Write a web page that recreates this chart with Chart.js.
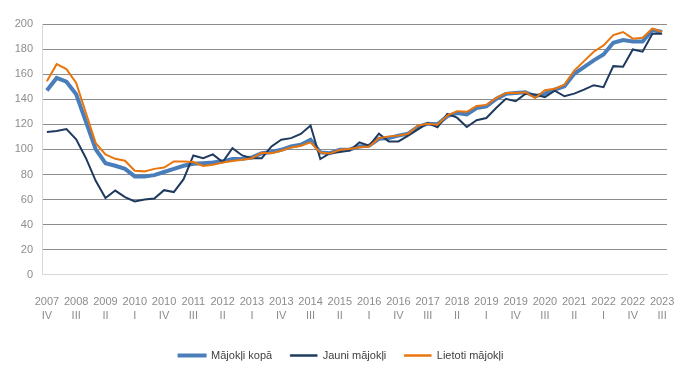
<!DOCTYPE html>
<html>
<head>
<meta charset="utf-8">
<script src="https://cdn.jsdelivr.net/npm/chart.js@4/dist/chart.umd.min.js"></script>
<style>
    html, body { margin: 0; padding: 0; background: #fff; }
    #wrap { width: 682px; height: 376px; }
</style>
</head>
<body>
<div id="wrap"><canvas id="chart" width="682" height="376"></canvas></div>
<script>
// Quarters 2007 IV .. 2023 III
const years = [];
const quarters = [];
const romans = ['I', 'II', 'III', 'IV'];
for (let y = 2007; y <= 2023; y++) {
    for (let q = 0; q < 4; q++) {
        if (y === 2007 && q < 3) continue;
        if (y === 2023 && q > 2) continue;
        years.push(String(y));
        quarters.push(romans[q]);
    }
}

const seriesNames = ['Mājokļi kopā', 'Jauni mājokļi', 'Lietoti mājokļi'];

const totalValues = [
    147, 157, 154, 144, 122, 100, 89, 87, 84.5, 78.5,
    78.5, 79.5, 82, 84.5, 87, 88.5, 89, 89.5, 90.5, 92.3,
    92.5, 93.6, 97, 98, 99.7, 102.4, 103.7, 107.7, 97.6, 97,
    99.7, 100, 102.4, 103, 108.5, 109, 111, 112.5, 118, 120.5,
    120, 126.5, 129, 128, 133, 134.4, 140.3, 144.3, 145, 145.6,
    142.4, 144.3, 147.7, 150.4, 160.3, 165.6, 171, 175.7, 185, 187.2,
    186, 186, 195.2, 193.6
];

const newValues = [
    113.8, 114.7, 116.3, 108, 93, 75, 61.3, 67.2, 62, 58.5,
    60, 60.8, 67.5, 66, 76.3, 95.2, 93, 96, 90, 101,
    95.2, 93, 93, 102.4, 107.7, 109, 112.3, 119, 92.3, 97,
    97.9, 99, 105.6, 102.9, 112.5, 106.4, 106.4, 111, 116, 121,
    117.6, 128.3, 125.3, 117.9, 123.3, 125, 133, 140.4, 138.4, 144.3,
    143.7, 141.6, 146.9, 142.4, 144.5, 147.7, 151.2, 149.6, 166.4, 165.9,
    179.7, 177.9, 192.3, 192.3
];

const usedValues = [
    154.4, 168, 164, 153, 129, 105, 96, 92.5, 91, 83,
    82.5, 84.5, 85.6, 90.4, 90.4, 90, 86.8, 87.7, 89.6, 90.8,
    91.7, 93, 97.4, 97, 99, 101.6, 103, 105.6, 97.6, 96.7,
    99.7, 100.3, 101.8, 102.4, 109, 110.4, 111, 112.5, 119, 120.5,
    119.7, 127, 130.5, 130, 134.6, 135.5, 141, 145, 145, 145.6,
    141, 147.2, 148.3, 151.7, 162.9, 170.4, 177.9, 182.9, 191.2, 193.6,
    188.3, 189, 196.3, 193.6
];

const yTicks = [0, 20, 40, 60, 80, 100, 120, 140, 160, 180, 200];

const labels = years.map((y, i) => [y, quarters[i]]);

// pull the legend a bit closer to the axis labels
const LEGEND_SHIFT = 3;
const legendShift = {
    id: 'legendShift',
    beforeInit(chart) {
        const fit = chart.legend.fit;
        chart.legend.fit = function() {
            fit.call(this);
            this.height -= LEGEND_SHIFT;
        };
        const draw = chart.legend.draw;
        chart.legend.draw = function() {
            const c = this.ctx;
            c.save();
            c.translate(0, -LEGEND_SHIFT);
            draw.call(this);
            c.restore();
        };
    }
};

document.addEventListener('DOMContentLoaded', function() {
    const ctx = document.getElementById('chart');

    new Chart(ctx, {
        type: 'line',
        data: {
            labels: labels,
            datasets: [{
                label: seriesNames[0],
                data: totalValues,
                borderColor: '#4A7EBB',
                backgroundColor: '#4A7EBB',
                borderWidth: 4,
                order: 2
            }, {
                label: seriesNames[1],
                data: newValues,
                borderColor: '#1F3A5F',
                backgroundColor: '#1F3A5F',
                borderWidth: 2,
                order: 1
            }, {
                label: seriesNames[2],
                data: usedValues,
                borderColor: '#E8750E',
                backgroundColor: '#E8750E',
                borderWidth: 2,
                order: 0
            }]
        },
        plugins: [legendShift],
        options: {
            responsive: false,
            animation: false,
            devicePixelRatio: 1,
            layout: {
                padding: { left: 6, right: 6, top: 24, bottom: 5 }
            },
            elements: {
                point: { radius: 0 },
                line: { tension: 0 }
            },
            plugins: {
                tooltip: { enabled: false },
                legend: {
                    position: 'bottom',
                    labels: {
                        boxWidth: 27,
                        boxHeight: 2,
                        padding: 18,
                        color: '#404040',
                        font: { family: 'Liberation Sans, Arial', size: 11 },
                        sort: (a, b) => a.datasetIndex - b.datasetIndex,
                        generateLabels: function(chart) {
                            return Chart.defaults.plugins.legend.labels.generateLabels(chart).map(l => {
                                l.lineWidth = l.datasetIndex === 0 ? 2 : 0.5;
                                return l;
                            });
                        }
                    }
                }
            },
            scales: {
                x: {
                    offset: true,
                    grid: { display: false },
                    border: { display: true, color: '#D9D9D9' },
                    afterFit: function(axis) {
                        axis.paddingLeft = 0;
                        axis.paddingRight = 15;
                    },
                    ticks: {
                        autoSkip: false,
                        maxRotation: 0,
                        padding: 12,
                        color: '#8C8C8C',
                        font: { family: 'Liberation Sans, Arial', size: 11, lineHeight: 1.28 },
                        callback: function(value, index) {
                            return index % 3 === 0 ? labels[index] : null;
                        }
                    }
                },
                y: {
                    min: 0,
                    max: 200,
                    afterBuildTicks: function(axis) {
                        axis.ticks = yTicks.map(v => ({ value: v }));
                    },
                    afterFit: function(axis) {
                        axis.width = 36;
                    },
                    grid: {
                        drawTicks: false,
                        color: function(c) {
                            return c.tick && c.tick.value === 0 ? 'rgba(0,0,0,0)' : '#8C8C8C';
                        }
                    },
                    border: { display: true, color: '#D9D9D9' },
                    ticks: {
                        padding: 9,
                        color: '#8C8C8C',
                        font: { family: 'Liberation Sans, Arial', size: 11 }
                    }
                }
            }
        }
    });
});
</script>
</body>
</html>
